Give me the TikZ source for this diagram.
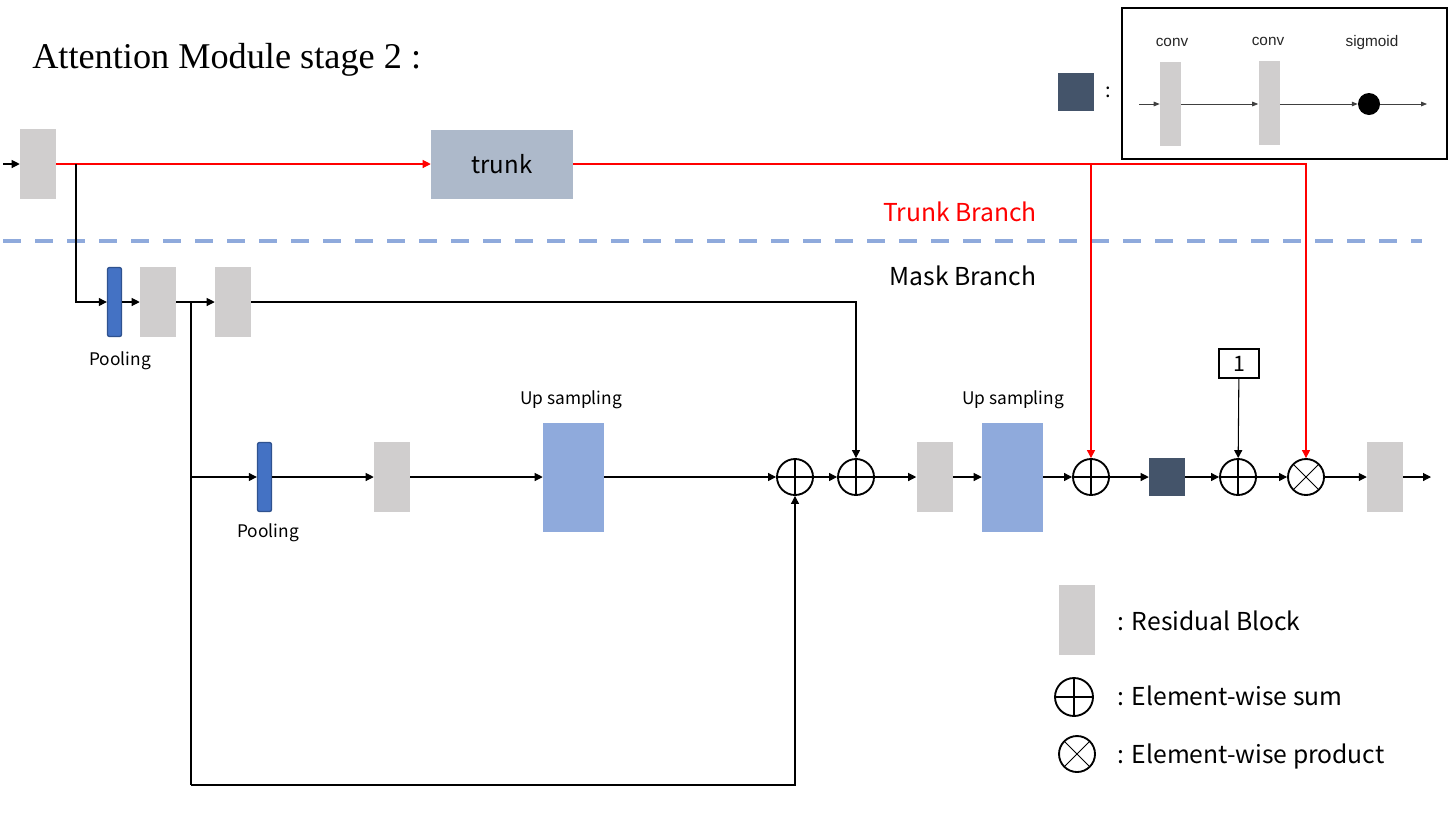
\documentclass[tikz,border=0pt]{standalone}
\usepackage{fontspec}
\setmainfont{Noto Sans CJK SC}
\newfontfamily\titlefont{Liberation Serif}
\newfontfamily\smallfont{Liberation Sans}
\usetikzlibrary{arrows.meta}
\definecolor{resgray}{HTML}{D0CECE}
\definecolor{trunkc}{HTML}{ADB9CA}
\definecolor{poolc}{HTML}{4472C4}
\definecolor{poolb}{HTML}{2F528F}
\definecolor{upc}{HTML}{8FAADC}
\definecolor{darkc}{HTML}{44546A}
\definecolor{dashc}{HTML}{8FAADC}
\definecolor{redc}{HTML}{FF0000}
\begin{document}
\begin{tikzpicture}[x=0.75pt,y=-0.75pt,
  resblock/.style={rectangle, fill=resgray, inner sep=0, minimum width=27pt, minimum height=52.5pt},
  trunkbox/.style={rectangle, fill=trunkc, inner sep=0, minimum width=106.5pt, minimum height=51.75pt, font=\fontsize{18}{20}\selectfont},
  poolbox/.style={rectangle, fill=poolc, draw=poolb, line width=1pt, rounded corners=1.5pt, inner sep=0, minimum width=10.5pt, minimum height=51.75pt},
  upbox/.style={rectangle, fill=upc, inner sep=0, minimum width=45.75pt, minimum height=81.75pt},
  darkbox/.style={rectangle, fill=darkc, inner sep=0, minimum width=27pt, minimum height=28.5pt},
  sumnode/.style={circle, draw, line width=1.4pt, minimum size=27pt, inner sep=0,
    path picture={\draw[line width=0.9pt] (path picture bounding box.north) -- (path picture bounding box.south) (path picture bounding box.west) -- (path picture bounding box.east);}},
  prodnode/.style={circle, draw, line width=1.4pt, minimum size=27pt, inner sep=0,
    path picture={\draw[line width=0.7pt] (path picture bounding box.center) +(45:20pt) -- +(225:20pt) +(135:20pt) -- +(-45:20pt);}},
  arr/.style={-{Triangle[length=6pt,width=6pt]}, line width=0.8pt},
  redarr/.style={-{Triangle[length=6pt,width=6pt]}, line width=0.8pt, draw=redc, color=redc},
  smallarr/.style={-{Triangle[length=4.5pt,width=3.5pt]}, line width=0.6pt, draw=black!75},
  lbl/.style={anchor=base, font=\fontsize{13}{15}\selectfont},
  biglbl/.style={anchor=base, font=\fontsize{18.5}{21}\selectfont},
  leglbl/.style={anchor=base west, font=\fontsize{18.5}{21}\selectfont},
  convlbl/.style={anchor=base, font=\smallfont\fontsize{11.5}{13}\selectfont, text=black!85},
  dashline/.style={draw=dashc, line width=3.5pt, dash pattern=on 13.5pt off 10.5pt}
]
\useasboundingbox (0,0) rectangle (1449,815);

% title
\node[anchor=base west, inner sep=0, font=\titlefont\fontsize{27.2}{31}\selectfont] (title) at (32,68) {Attention Module stage 2 :};

% trunk branch
\coordinate (in) at (3,164);
\node[resblock] (R0) at (38,164) {};
\node[trunkbox] (trunk) at (502,164) {trunk};
\draw[arr] (in) -- (R0.west);
\draw[redarr] (R0.east) -- (trunk.west);

\node[biglbl, text=redc] (tb) at (960,221) {Trunk Branch};
\node[biglbl] (mb) at (963,285) {Mask Branch};
\draw[dashline] (3,241) -- (1422,241);

% mask branch top
\node[poolbox] (P1) at (114.5,302) {};
\node[resblock] (R1) at (158,302) {};
\node[resblock] (R2) at (233,302) {};
\node[lbl] (pl1) at (120,365) {Pooling};
\coordinate (j0) at (76,164);
\coordinate (j1) at (191,302);
\draw[arr] (j0) |- (P1.west);
\draw[arr] (P1) -- (R1);
\draw[arr] (R1) -- (R2);

% second level
\node[poolbox] (P2) at (264.5,477) {};
\node[resblock] (R3) at (392,477) {};
\node[upbox] (U1) at (573.5,477) {};
\node[lbl] (pl2) at (268,537) {Pooling};
\node[lbl] (ul1) at (571,404) {Up sampling};

% main row
\node[sumnode] (sum1) at (795,477) {};
\node[sumnode] (sum2) at (856,477) {};
\node[resblock] (R4) at (934.5,477) {};
\node[upbox] (U2) at (1012.5,477) {};
\node[lbl] (ul2) at (1013,404) {Up sampling};
\node[sumnode] (sum3) at (1091,477) {};
\node[darkbox] (D) at (1167,477) {};
\node[sumnode] (sum4) at (1238,477) {};
\node[draw, line width=1.3pt, inner sep=0, minimum width=30pt, minimum height=21.75pt, font=\fontsize{16}{18}\selectfont] (one) at (1239,363.5) {1};
\node[prodnode] (prod) at (1306,477) {};
\node[resblock] (R5) at (1385,477) {};
\coordinate (out) at (1431,477);
\coordinate (c1) at (191,785);

\draw[arr] (R2.east) -| (sum2.north);
\draw[line width=0.8pt] (j1) -- (c1);
\draw[arr] (c1) -| (sum1.south);
\draw[arr] (j1 |- P2.west) -- (P2.west);
\draw[arr] (P2) -- (R3);
\draw[arr] (R3) -- (U1);
\draw[arr] (U1) -- (sum1);
\draw[arr] (sum1) -- (sum2);
\draw[arr] (sum2) -- (R4);
\draw[arr] (R4) -- (U2);
\draw[arr] (U2) -- (sum3);
\draw[arr] (sum3) -- (D);
\draw[arr] (D) -- (sum4);
\draw[arr] (one) -- (sum4);
\draw[arr] (sum4) -- (prod);
\draw[arr] (prod) -- (R5);
\draw[arr] (R5) -- (out);

% red trunk output
\draw[redarr] (trunk.east) -| (prod.north);
\draw[redarr] (sum3.north |- trunk.east) -- (sum3.north);

% legend box (top right)
\node[darkbox, minimum height=28.5pt] (D0) at (1076,92) {};
\node[font=\fontsize{15}{17}\selectfont] (colon) at (1108,92) {:};
\node[draw, line width=1.8pt, inner sep=0, minimum width=243.75pt, minimum height=113.25pt] (legbox) at (1284.5,83.5) {};
\node[rectangle, fill=resgray, inner sep=0, minimum width=15.75pt, minimum height=63pt] (C1) at (1170.5,104) {};
\node[rectangle, fill=resgray, inner sep=0, minimum width=15.75pt, minimum height=63pt] (C2) at (1269,103) {};
\node[circle, fill=black, inner sep=0, minimum size=16.5pt] (dot) at (1369,104) {};
\node[convlbl] (cl1) at (1172,46) {conv};
\node[convlbl] (cl2) at (1268,45) {conv};
\node[convlbl] (cl3) at (1372,46) {sigmoid};
\coordinate (lin) at (1139,104);
\coordinate (lout) at (1427,104);
\draw[smallarr] (lin) -- (C1.west |- lin);
\draw[smallarr] (C1.east |- lin) -- (C2.west |- lin);
\draw[smallarr] (C2.east |- lin) -- (dot.west);
\draw[smallarr] (dot.east) -- (lout);

% legend bottom right
\node[resblock] (RL) at (1077,620) {};
\node[leglbl] (rlt) at (1113,630) {: Residual Block};
\node[sumnode, minimum size=28.5pt] (SL) at (1074,697) {};
\node[leglbl] (slt) at (1113,705) {: Element-wise sum};
\node[prodnode] (PL) at (1077,754) {};
\node[leglbl] (plt) at (1113,763) {: Element-wise product};
\end{tikzpicture}
\end{document}
